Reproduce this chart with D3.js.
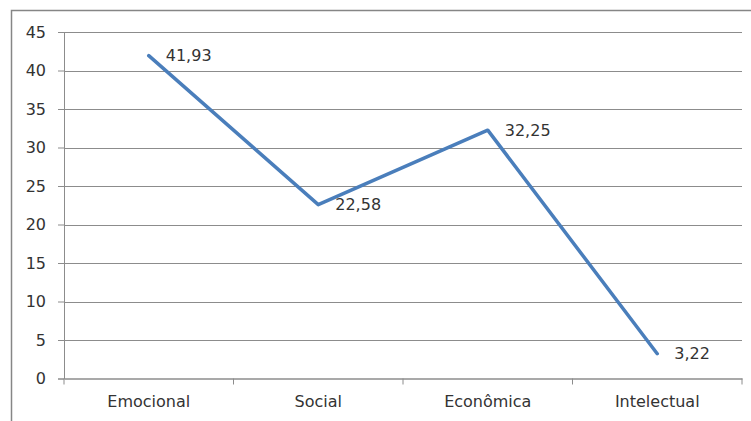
<!DOCTYPE html>
<html><head><meta charset="utf-8">
<script src="https://cdn.jsdelivr.net/npm/d3@7"></script>
<style>html,body{margin:0;padding:0;background:#fff;}svg{display:block;}</style>
</head><body>
<svg id="c" width="751" height="421"></svg>
<script>
const categories = ["Emocional", "Social", "Econômica", "Intelectual"];
const values = [41.93, 22.58, 32.25, 3.22];
const valueLabels = ["41,93", "22,58", "32,25", "3,22"];
const yTicks = [0, 5, 10, 15, 20, 25, 30, 35, 40, 45];

(function () {
const svg = d3.select("#c");
const W = 751, H = 421;
const mL = 64, mR = 742, mT = 32, mB = 378.5;
const font = "DejaVu Sans";

// outer frame (cropped: top and left visible)
svg.append("path").attr("d", `M11.5,${H} V10.5 H${W}`).attr("fill", "none")
  .attr("stroke", "#868686").attr("stroke-width", 1.5);

const x = d3.scaleBand().domain(categories).range([mL, mR]).padding(0);
const y = d3.scaleLinear().domain([0, 45]).range([mB, mT]);

// gridlines
svg.append("g").selectAll("line").data(yTicks.filter(d => d > 0)).join("line")
  .attr("x1", mL).attr("x2", mR)
  .attr("y1", d => Math.round(y(d)) + 0.5).attr("y2", d => Math.round(y(d)) + 0.5)
  .attr("stroke", "#8c8c8c").attr("stroke-width", 1);

// y axis
const yAxis = d3.axisLeft(y).tickValues(yTicks).tickSize(6).tickPadding(12).tickFormat(d3.format("d"));
const gy = svg.append("g").attr("transform", `translate(${mL},0)`).call(yAxis);
gy.select(".domain").attr("stroke", "#8c8c8c");
gy.selectAll(".tick line").attr("stroke", "#8c8c8c");
gy.selectAll(".tick text").attr("font-family", font).attr("font-size", 16).attr("fill", "#333");

// x axis
const xAxis = d3.axisBottom(x).tickSize(0).tickPadding(17);
const gx = svg.append("g").attr("transform", `translate(0,${mB})`).call(xAxis);
gx.select(".domain").attr("stroke", "#8c8c8c").attr("stroke-width", 1.5);
gx.selectAll(".tick text").attr("font-family", font).attr("font-size", 16).attr("fill", "#333");
const bounds = categories.map(c => x(c)).concat([mR]);
gx.append("g").selectAll("line").data(bounds).join("line")
  .attr("x1", d => d).attr("x2", d => d).attr("y1", 0).attr("y2", 6)
  .attr("stroke", "#8c8c8c");

// line
const pts = categories.map((c, i) => [x(c) + x.bandwidth() / 2, y(values[i])]);
svg.append("path").attr("d", d3.line()(pts)).attr("fill", "none")
  .attr("stroke", "#4a7ebb").attr("stroke-width", 3.5)
  .attr("stroke-linejoin", "round").attr("stroke-linecap", "round");

// data labels
svg.append("g").selectAll("text").data(pts).join("text")
  .attr("x", d => d[0] + 17).attr("y", d => d[1] + 1)
  .attr("dominant-baseline", "middle")
  .attr("font-family", font).attr("font-size", 16).attr("fill", "#333")
  .text((d, i) => valueLabels[i]);
})();
</script>
</body></html>
